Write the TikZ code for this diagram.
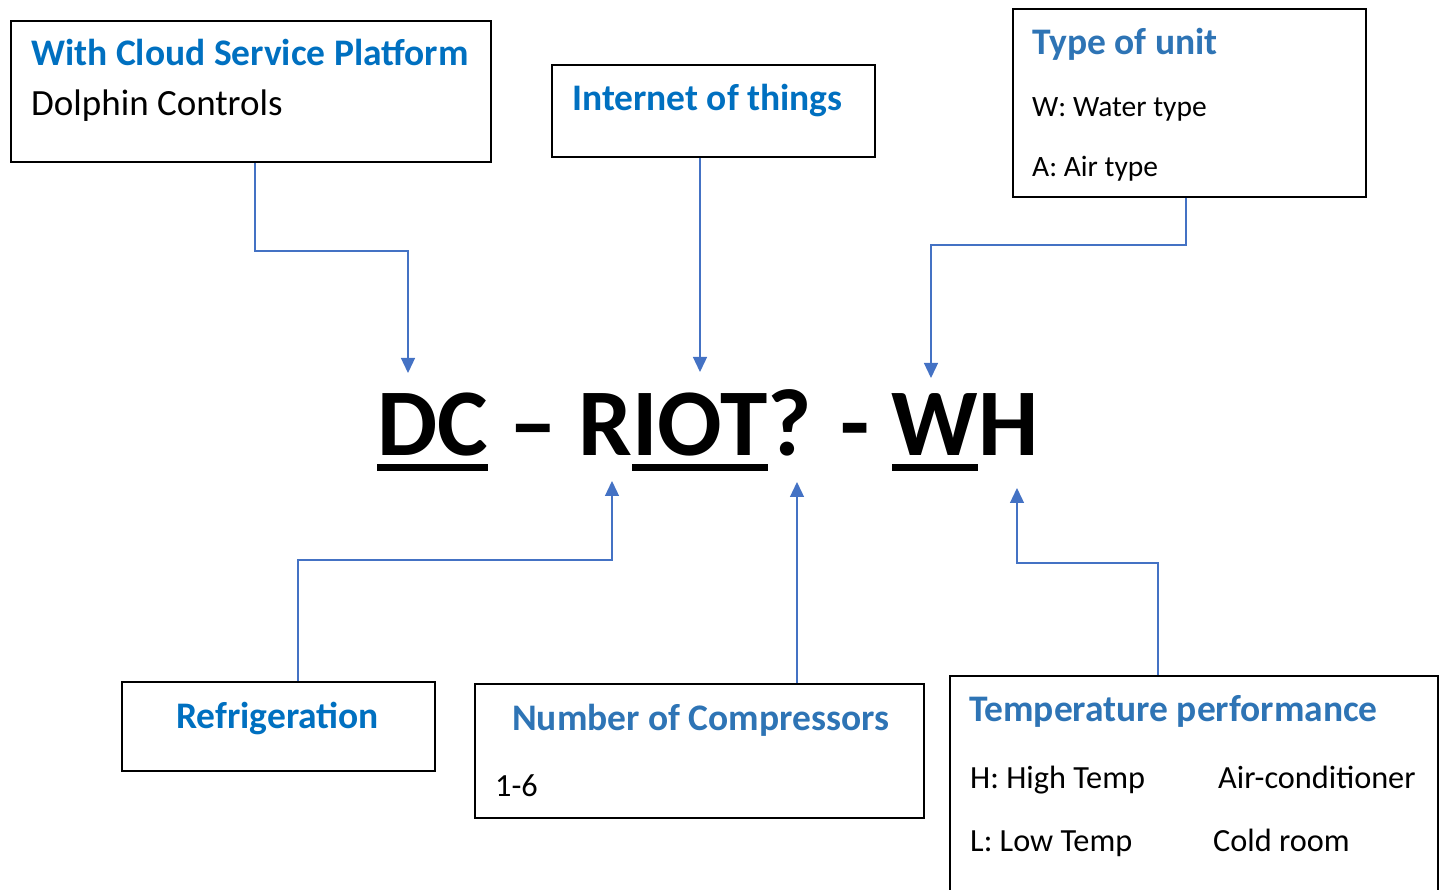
\documentclass[tikz,border=0pt]{standalone}
\usepackage{fontspec}
\setmainfont{Carlito}
\usetikzlibrary{arrows.meta}
\definecolor{tblue}{HTML}{0070C0}
\definecolor{sblue}{HTML}{2E74B5}
\definecolor{lblue}{HTML}{4472C4}
\newcommand\myul[1]{\setbox0\hbox{#1}\rlap{\vrule height -8pt depth 15pt width \wd0}\box0\relax}
\tikzset{
  box/.style={draw=black, line width=2pt, rectangle, anchor=north west, inner sep=0pt},
  ttl/.style={anchor=base west, inner sep=0pt, font=\fontsize{37.5}{44}\selectfont\bfseries, text=tblue},
  ttls/.style={anchor=base west, inner sep=0pt, font=\fontsize{37.5}{44}\selectfont\bfseries, text=sblue},
  txt/.style={anchor=base west, inner sep=0pt, font=\fontsize{37}{44}\selectfont},
  txts/.style={anchor=base west, inner sep=0pt, font=\fontsize{29.5}{35}\selectfont},
  txtm/.style={anchor=base west, inner sep=0pt, font=\fontsize{32.3}{38}\selectfont},
  conn/.style={draw=lblue, line width=1.3pt, -{Triangle[width=14pt,length=15pt]}},
}
\begin{document}
\begin{tikzpicture}[x=1pt,y=-1pt]
\useasboundingbox (0,0) rectangle (1444,890);
% boxes
\node[box, minimum width=480pt, minimum height=141pt] (b1) at (10,20) {};
\node[box, minimum width=323pt, minimum height=92pt] (b2) at (551,64) {};
\node[box, minimum width=353pt, minimum height=188pt] (b3) at (1012,8) {};
\node[box, minimum width=313pt, minimum height=89pt] (b4) at (121,681) {};
\node[box, minimum width=449pt, minimum height=134pt] (b5) at (474,683) {};
\node[box, minimum width=488pt, minimum height=240pt] (b6) at (949,675) {};
% texts
\node[ttl] (t1a) at (31,66) {With Cloud Service Platform};
\node[txt] (t1b) at (31,116) {Dolphin Controls};
\node[ttl] (t2a) at (572,111) {Internet of things};
\node[ttls] (t3a) at (1032,55) {Type of unit};
\node[txts] (t3b) at (1032,117) {W: Water type};
\node[txts] (t3c) at (1032,177) {A: Air type};
\node[ttl] (t4a) at (176,728) {Refrigeration};
\node[ttls] (t5a) at (512,730) {Number of Compressors};
\node[txtm] (t5b) at (495,796) {1-6};
\node[ttls] (t6a) at (969,721) {Temperature performance};
\node[txtm] (t6b) at (970,788) {H: High Temp};
\node[txtm] (t6c) at (1218,788) {Air-conditioner};
\node[txtm] (t6d) at (970,851) {L: Low Temp};
\node[txtm] (t6e) at (1213,851) {Cold room};
% main code
\node[anchor=base west, inner sep=0pt, font=\fontsize{95.5}{110}\selectfont\bfseries] (code) at (377,456)
  {\myul{DC} – R\myul{IOT}? - \myul{W}H};
% arrow targets
\coordinate (tDC) at (408,373);
\coordinate (tIOT) at (700,372);
\coordinate (tW) at (931,378);
\coordinate (tR) at (612,481);
\coordinate (tQ) at (797,482);
\coordinate (tH) at (1017,488);
% connectors
\draw[conn] (b1.south west -| 255,0) -- (255,251) -| (tDC);
\draw[conn] (b2.south west -| tIOT) -- (tIOT);
\draw[conn] (b3.south west -| 1186,0) -- (1186,245) -| (tW);
\draw[conn] (b4.north west -| 298,0) -- (298,560) -| (tR);
\draw[conn] (b5.north west -| tQ) -- (tQ);
\draw[conn] (b6.north west -| 1158,0) -- (1158,563) -| (tH);
\end{tikzpicture}
\end{document}
